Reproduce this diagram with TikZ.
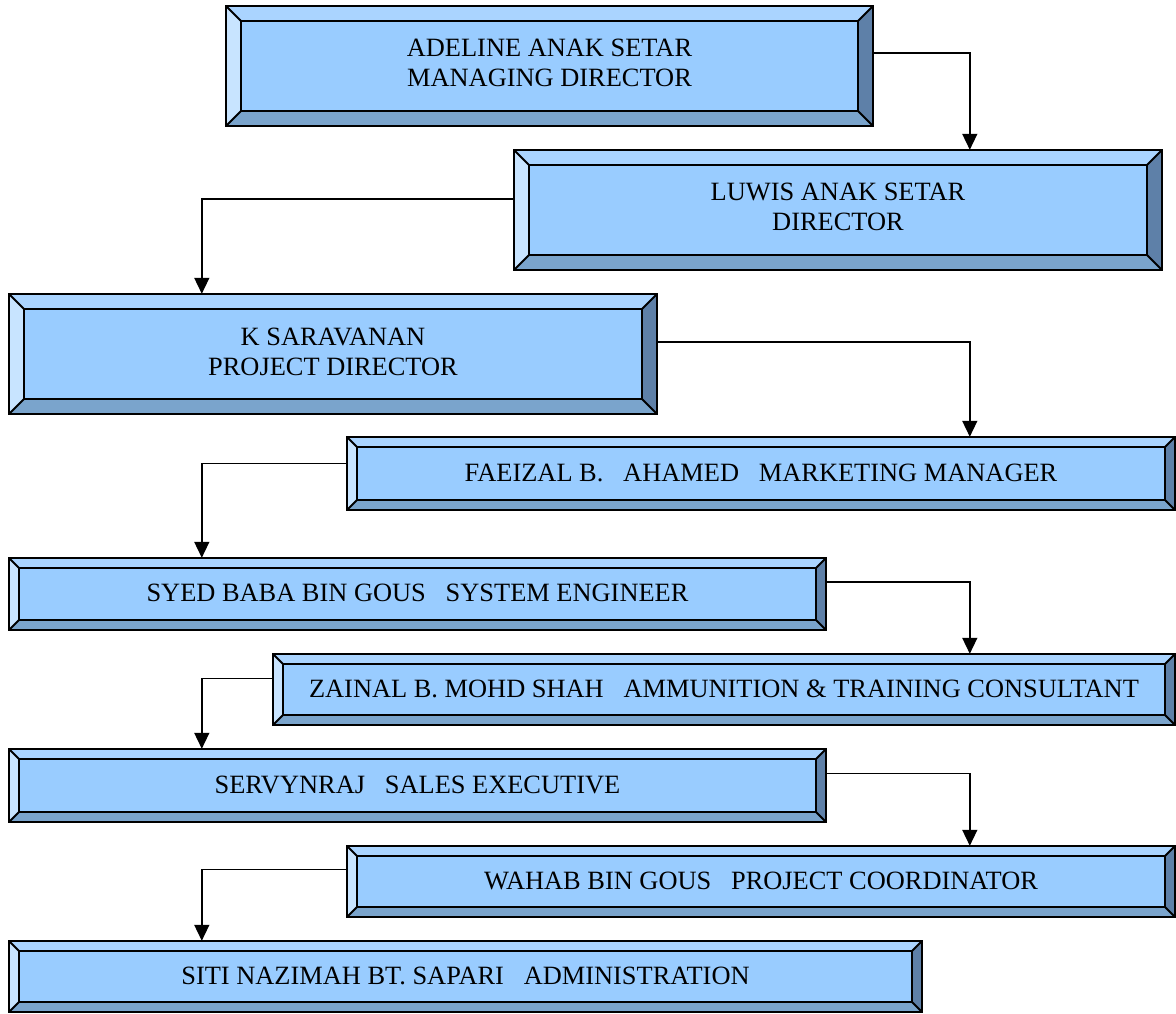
\documentclass[tikz,border=0pt]{standalone}
\usepackage{fontspec}
\setmainfont{Liberation Serif}
\usetikzlibrary{arrows.meta}
\definecolor{bvTop}{HTML}{AAD4FF}
\definecolor{bvLeft}{HTML}{C8E4FF}
\definecolor{bvMid}{HTML}{99CCFF}
\definecolor{bvBot}{HTML}{7AA4CC}
\definecolor{bvRight}{HTML}{5E80A8}
\tikzset{
  bevline/.style={line width=1.8pt, line join=miter, draw=black},
  boxtext/.style={inner sep=0pt, align=center, font=\fontsize{26.4}{30}\selectfont},
  conn/.style={line width=1.5pt, -{Triangle[width=15pt,length=16pt]}},
}
\newcommand\twolines[2]{\raisebox{5pt}{\begin{tabular}{@{}c@{}}#1\\#2\end{tabular}}}
% \bevbox{name}{x1}{y1}{x2}{y2}{bevel}{text}
\newcommand\bevbox[7]{%
  \fill[bvMid] (#2+#6,#3+#6) rectangle (#4-#6,#5-#6);
  \fill[bvTop] (#2,#3) -- (#4,#3) -- (#4-#6,#3+#6) -- (#2+#6,#3+#6) -- cycle;
  \fill[bvLeft] (#2,#3) -- (#2+#6,#3+#6) -- (#2+#6,#5-#6) -- (#2,#5) -- cycle;
  \fill[bvBot] (#2,#5) -- (#2+#6,#5-#6) -- (#4-#6,#5-#6) -- (#4,#5) -- cycle;
  \fill[bvRight] (#4,#3) -- (#4,#5) -- (#4-#6,#5-#6) -- (#4-#6,#3+#6) -- cycle;
  \draw[bevline] (#2,#3) rectangle (#4,#5);
  \draw[bevline] (#2+#6,#3+#6) rectangle (#4-#6,#5-#6);
  \draw[bevline] (#2,#3) -- (#2+#6,#3+#6) (#4,#3) -- (#4-#6,#3+#6)
                 (#2,#5) -- (#2+#6,#5-#6) (#4,#5) -- (#4-#6,#5-#6);
  \node[boxtext, minimum width={(#4-#2)*1pt}, minimum height={(#5-#3)*1pt}]
       (#1) at ({(#2+#4)/2},{(#3+#5)/2}) {#7};
}
\begin{document}
\begin{tikzpicture}[x=1pt,y=-1pt]
\useasboundingbox (0,0) rectangle (1176,1014);
\bevbox{b1}{226}{6}{873}{126}{15}{\twolines{ADELINE ANAK SETAR}{MANAGING DIRECTOR}}
\bevbox{b2}{514}{150}{1162}{270}{15}{\twolines{LUWIS ANAK SETAR}{DIRECTOR}}
\bevbox{b3}{9}{294}{657}{414}{15}{\twolines{K SARAVANAN}{PROJECT DIRECTOR}}
\bevbox{b4}{347}{437}{1175}{510}{10}{\raisebox{2pt}{FAEIZAL B.\ \ \ AHAMED\ \ \ MARKETING MANAGER}}
\bevbox{b5}{9}{558}{826}{630}{10}{\raisebox{2pt}{SYED BABA BIN GOUS\ \ \ SYSTEM ENGINEER}}
\bevbox{b6}{273}{654}{1175}{725}{10}{\raisebox{2pt}{ZAINAL B. MOHD SHAH\ \ \ AMMUNITION \& TRAINING CONSULTANT}}
\bevbox{b7}{9}{749}{826}{822}{10}{\raisebox{2pt}{SERVYNRAJ\ \ \ SALES EXECUTIVE}}
\bevbox{b8}{347}{846}{1175}{917}{10}{\raisebox{2pt}{WAHAB BIN GOUS\ \ \ PROJECT COORDINATOR}}
\bevbox{b9}{9}{941}{922}{1012}{10}{\raisebox{2pt}{SITI NAZIMAH BT. SAPARI\ \ \ ADMINISTRATION}}

\draw[conn] ([yshift=13pt]b1.east) -| ([xshift=456pt]b2.north west);
\draw[conn] ([yshift=11pt]b2.west) -| ([xshift=193pt]b3.north west);
\draw[conn] ([yshift=12pt]b3.east) -| ([xshift=623pt]b4.north west);
\draw[conn] ([yshift=10pt]b4.west) -| ([xshift=193pt]b5.north west);
\draw[conn] ([yshift=12pt]b5.east) -| ([xshift=697pt]b6.north west);
\draw[conn] ([yshift=11pt]b6.west) -| ([xshift=193pt]b7.north west);
\draw[conn] ([yshift=12pt]b7.east) -| ([xshift=623pt]b8.north west);
\draw[conn] ([yshift=12pt]b8.west) -| ([xshift=193pt]b9.north west);
\end{tikzpicture}
\end{document}
